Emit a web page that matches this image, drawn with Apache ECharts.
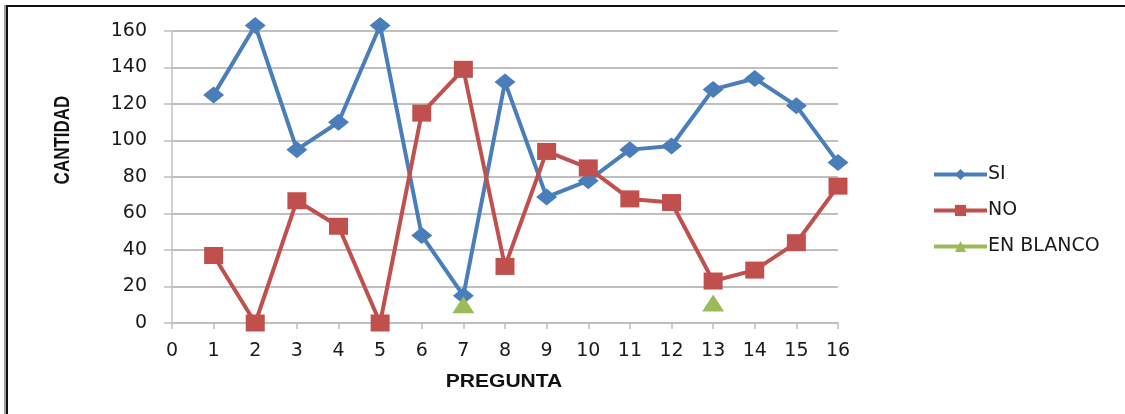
<!DOCTYPE html>
<html>
<head>
<meta charset="utf-8">
<script src="https://cdn.jsdelivr.net/npm/echarts@6/dist/echarts.min.js"></script>
<style>
  html, body { margin: 0; padding: 0; background: #fff; overflow: hidden; }
  #wrap { position: relative; width: 1125px; height: 414px; }
  #chart { position: absolute; left: 0; top: 0; width: 1125px; height: 414px; }
  /* frame around the chart: only its top and left edges show */
  #frame {
    position: absolute; left: 6px; top: 5px; width: 1200px; height: 500px;
    border-top: 2px solid #111; border-left: 2px solid #111;
    box-shadow: -2px 0 0 #a0a0a0;
    pointer-events: none;
  }
</style>
</head>
<body>
<div id="wrap">
  <div id="chart"></div>
  <div id="frame"></div>
</div>
<script>
// Questions 1..16 and the answer counts for each
const preguntas = [1, 2, 3, 4, 5, 6, 7, 8, 9, 10, 11, 12, 13, 14, 15, 16];
const si = [125, 163, 95, 110, 163, 48, 15, 132, 69, 78, 95, 97, 128, 134, 119, 88];
const no = [37, 0, 67, 53, 0, 115, 139, 31, 94, 85, 68, 66, 23, 29, 44, 75];
const enBlanco = [null, null, null, null, null, null, 10, null, null, null, null, null, 11, null, null, null];
const yTicks = [0, 20, 40, 60, 80, 100, 120, 140, 160];

const pairs = (vals) => preguntas.map((q, i) => [q, vals[i] === null ? '-' : vals[i]]);

const FONT = 'DejaVu Sans';
const GRID_GRAY = '#bfbfbf';

const chart = echarts.init(document.getElementById('chart'));
chart.setOption({
  backgroundColor: '#ffffff',
  animation: false,
  textStyle: { fontFamily: FONT },
  grid: { left: 172, right: 287, top: 31, bottom: 91, containLabel: false },
  xAxis: {
    type: 'value',
    min: 0, max: 16, interval: 1,
    axisLine: { lineStyle: { color: GRID_GRAY, width: 1.5 } },
    axisTick: { length: 6, lineStyle: { color: GRID_GRAY, width: 1.5 } },
    splitLine: { show: false },
    axisLabel: { color: '#1a1a1a', fontSize: 19, fontFamily: FONT, margin: 19 }
  },
  yAxis: {
    type: 'value',
    min: yTicks[0], max: yTicks[yTicks.length - 1], interval: 20,
    axisLine: { show: true, lineStyle: { color: GRID_GRAY, width: 1.5 } },
    axisTick: { show: true, length: 8, lineStyle: { color: GRID_GRAY, width: 1.5 } },
    splitLine: { show: true, lineStyle: { color: GRID_GRAY, width: 2 } },
    axisLabel: { color: '#1a1a1a', fontSize: 19, fontFamily: FONT, margin: 25 }
  },
  legend: {
    orient: 'vertical',
    left: 932,
    top: 165,
    padding: 0,
    itemWidth: 53,
    itemHeight: 14,
    itemGap: 17,
    lineStyle: { width: 4 },
    textStyle: { color: '#1a1a1a', fontSize: 19, fontFamily: FONT, padding: [0, 0, 0, -4] },
    data: ['SI', 'NO', 'EN BLANCO']
  },
  series: [
    {
      name: 'SI',
      type: 'line',
      clip: false,
      data: pairs(si),
      symbol: 'diamond',
      symbolSize: [21, 17],
      color: '#4a7ebb',
      lineStyle: { width: 4, color: '#4a7ebb' },
      itemStyle: { color: '#4a7ebb' }
    },
    {
      name: 'NO',
      type: 'line',
      clip: false,
      data: pairs(no),
      symbol: 'rect',
      symbolSize: [19, 17],
      color: '#c0504d',
      lineStyle: { width: 4, color: '#c0504d' },
      itemStyle: { color: '#c0504d' }
    },
    {
      name: 'EN BLANCO',
      type: 'line',
      clip: false,
      connectNulls: false,
      data: pairs(enBlanco),
      symbol: 'triangle',
      symbolSize: [22, 17],
      color: '#9bbb59',
      lineStyle: { width: 4, color: '#9bbb59' },
      itemStyle: { color: '#9bbb59' }
    }
  ],
  graphic: [
    // axis titles
    {
      type: 'text', x: 63, y: 140, rotation: Math.PI / 2, scaleY: 1.35,
      style: { text: 'CANTIDAD', fill: '#111', font: 'bold 17px "Liberation Sans"', align: 'center', verticalAlign: 'middle' }
    },
    {
      type: 'text', x: 504, y: 382, scaleX: 1.17,
      style: { text: 'PREGUNTA', fill: '#111', font: 'bold 18px "Liberation Sans"', align: 'center', verticalAlign: 'middle' }
    }
  ]
});
</script>
</body>
</html>
